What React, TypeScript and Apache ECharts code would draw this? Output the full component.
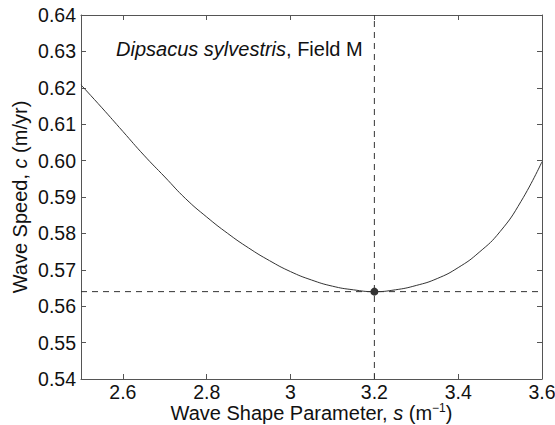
import React, { useEffect, useRef } from "react";
import * as echarts from "echarts";

const waveShape = [2.5, 2.55, 2.6, 2.65, 2.7, 2.75, 2.8, 2.85, 2.9, 2.95, 3.0, 3.05, 3.1, 3.15, 3.2, 3.25, 3.3, 3.35, 3.4, 3.45, 3.5, 3.55, 3.6];
const waveSpeed = [0.6208, 0.6145, 0.608, 0.6015, 0.5955, 0.5895, 0.5845, 0.58, 0.576, 0.5725, 0.5695, 0.5672, 0.5655, 0.5645, 0.564, 0.5645, 0.5657, 0.5676, 0.5706, 0.5748, 0.5805, 0.5888, 0.5997];
const optimumS = 3.2;
const optimumC = 0.564;
const xTicks = [2.6, 2.8, 3.0, 3.2, 3.4, 3.6];
const xMin = 2.5, xMax = 3.6, yMin = 0.54, yMax = 0.64, yStep = 0.01;

const FONT = "'Liberation Sans', Arial, Helvetica, sans-serif";
const AX = "#555";
const TXT = "#111";

export default function App() {
  const ref = useRef<HTMLDivElement>(null);
  useEffect(() => {
    if (!ref.current) return;
    const chart = echarts.init(ref.current, undefined, { renderer: "svg" });
    const curve = waveShape.map((s, i) => [s, waveSpeed[i]]);
    const baseX = {
      type: "value",
      min: xMin,
      max: xMax,
      splitLine: { show: false },
      axisLine: { show: true, onZero: false, lineStyle: { color: AX, width: 1 } },
      axisTick: { show: true, inside: true, length: 5, customValues: xTicks, lineStyle: { color: AX } },
    };
    const baseY = {
      type: "value",
      min: yMin,
      max: yMax,
      interval: yStep,
      splitLine: { show: false },
      axisLine: { show: true, onZero: false, lineStyle: { color: AX, width: 1 } },
      axisTick: { show: true, inside: true, length: 5, lineStyle: { color: AX } },
    };
    chart.setOption({
      animation: false,
      backgroundColor: "#fff",
      textStyle: { fontFamily: FONT },
      title: {
        text: "{i|Dipsacus sylvestris}{n|, Field M}",
        left: 116,
        top: 39,
        padding: 0,
        textStyle: {
          fontWeight: "normal",
          rich: {
            i: { fontFamily: FONT, fontStyle: "italic", fontWeight: "normal", fontSize: 20, color: TXT },
            n: { fontFamily: FONT, fontWeight: "normal", fontSize: 20, color: TXT },
          },
        },
      },
      grid: { left: 81, right: 13, top: 15, bottom: 46, containLabel: false, outerBoundsMode: "none" },
      xAxis: [
        {
          ...baseX,
          position: "bottom",
          name: "{n|Wave Shape Parameter, }{i|s}{n| (m}{sup|−1}{n|)}",
          nameLocation: "middle",
          nameGap: 23,
          nameMoveOverlap: false,
          nameTextStyle: {
            rich: {
              n: { fontFamily: FONT, fontSize: 20, color: TXT },
              i: { fontFamily: FONT, fontSize: 20, fontStyle: "italic", color: TXT },
              sup: { fontFamily: FONT, fontSize: 12, color: TXT, padding: [0, 0, 9, 0] },
            },
          },
          axisLabel: {
            show: true,
            customValues: xTicks,
            margin: 3,
            lineHeight: 19,
            fontFamily: FONT,
            fontSize: 19.5,
            color: TXT,
            formatter: (v: number) => String(Number(v.toFixed(1))),
          },
        },
        { ...baseX, position: "top", axisLabel: { show: false } },
      ],
      yAxis: [
        {
          ...baseY,
          position: "left",
          name: "{n|Wave Speed, }{i|c}{n| (m/yr)}",
          nameLocation: "middle",
          nameGap: 51,
          nameMoveOverlap: false,
          nameTextStyle: {
            rich: {
              n: { fontFamily: FONT, fontSize: 20, color: TXT },
              i: { fontFamily: FONT, fontSize: 20, fontStyle: "italic", color: TXT },
            },
          },
          axisLabel: {
            show: true,
            margin: 5,
            fontFamily: FONT,
            fontSize: 19.5,
            color: TXT,
            formatter: (v: number) => v.toFixed(2),
          },
        },
        { ...baseY, position: "right", axisLabel: { show: false } },
      ],
      series: [
        {
          type: "line",
          data: [[optimumS, yMin], [optimumS, yMax]],
          symbol: "none",
          lineStyle: { color: "#333", width: 1, type: [6, 5] },
          silent: true,
        },
        {
          type: "line",
          data: [[xMin, optimumC], [xMax, optimumC]],
          symbol: "none",
          lineStyle: { color: "#333", width: 1, type: [6, 5] },
          silent: true,
        },
        {
          type: "line",
          data: curve,
          smooth: true,
          symbol: "none",
          lineStyle: { color: "#333", width: 1 },
        },
        {
          type: "scatter",
          data: [[optimumS, optimumC]],
          symbolSize: 8,
          itemStyle: { color: "#000" },
        },
      ],
    });
    return () => chart.dispose();
  }, []);
  return <div ref={ref} style={{ position: "fixed", left: 0, top: 0, width: 555, height: 425 }} />;
}
